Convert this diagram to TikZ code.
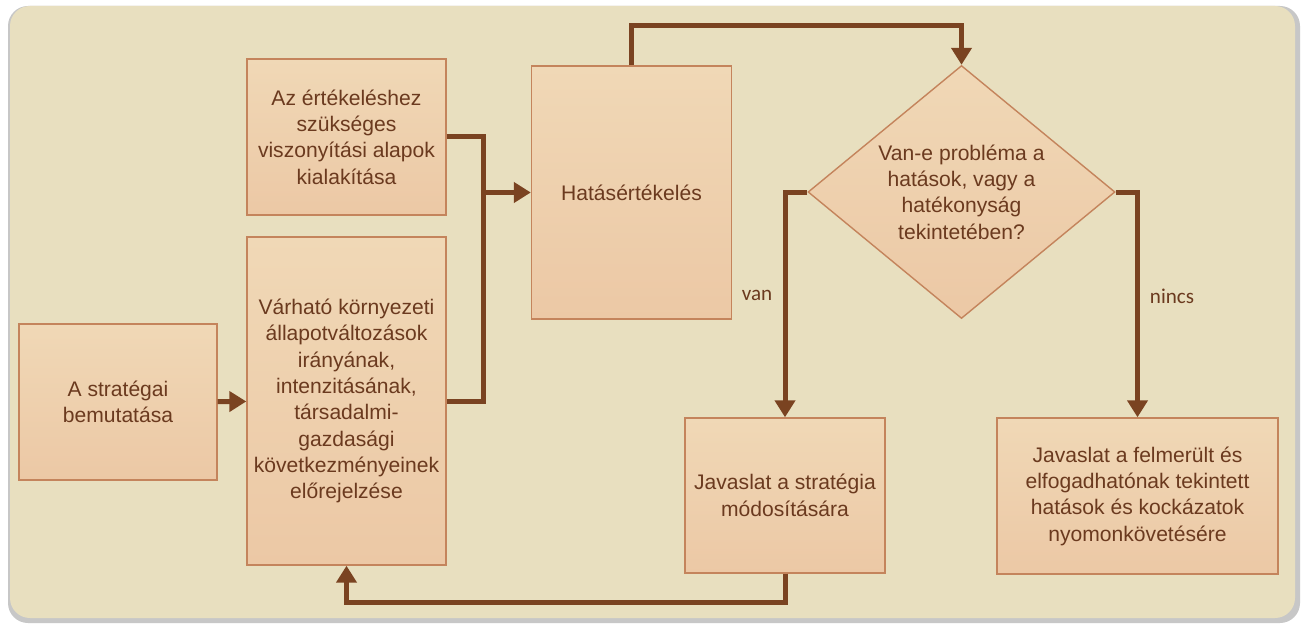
\documentclass[tikz,border=0pt]{standalone}
\usepackage{fontspec}
\setmainfont{Liberation Sans}
\newfontfamily\lblfont{Carlito}
\usetikzlibrary{shapes.geometric,arrows.meta}
\definecolor{bgc}{HTML}{E8DFBF}
\definecolor{boxtop}{HTML}{F0D8B6}
\definecolor{boxbot}{HTML}{ECC8A5}
\definecolor{boxline}{HTML}{C4845C}
\definecolor{arrowc}{HTML}{7A4321}
\definecolor{txtc}{HTML}{6B3A1F}
\begin{document}
\begin{tikzpicture}[line join=miter]
                \tikzstyle{box}=[rectangle,draw=boxline,line width=0.8pt,top color=boxtop,bottom color=boxbot,align=center,text=txtc,font=\fontsize{12}{15}\selectfont,inner sep=2pt]
                \tikzstyle{conn}=[draw=arrowc,line width=0.1cm,-{Triangle[length=0.34cm,width=0.4cm]}]
                \tikzstyle{plain}=[draw=arrowc,line width=0.1cm]
                \tikzstyle{lbl}=[text=txtc,font=\lblfont\fontsize{12}{14}\selectfont]
                \useasboundingbox (0,0) rectangle (26.02,12.52);
                \fill[white] (0,0) rectangle (26.02,12.52);
                \fill[black!22,rounded corners=0.4cm] (0.16,0.06) rectangle (26.0,12.4);
                \fill[bgc,rounded corners=0.4cm] (0.2,0.16) rectangle (25.9,12.4);

                \foreach \num/\x/\y/\w/\h/\txt in {strat/2.36/4.48/3.96/3.12/{A stratégai\\bemutatása},
                        alap/6.93/9.78/3.98/3.12/{Az értékeléshez\\szükséges\\viszonyítási alapok\\kialakítása},
                        varhato/6.93/4.50/3.98/6.56/{Várható környezeti\\állapotváltozások\\irányának,\\intenzitásának,\\társadalmi-\\gazdasági\\következményeinek\\előrejelzése},
                        hatas/12.63/8.67/4.0/5.06/{Hatásértékelés},
                        modosit/15.70/2.61/4.0/3.1/{Javaslat a stratégia\\módosítására},
                        kovet/22.75/2.60/5.62/3.12/{Javaslat a felmerült és\\elfogadhatónak tekintett\\hatások és kockázatok\\nyomonkövetésére}}
                        \node[box,minimum width=\w cm,minimum height=\h cm] (V-\num) at (\x,\y) {\txt};

                \node[box,diamond,aspect=1.21,inner sep=0pt,minimum width=6.14cm,minimum height=5.06cm] (V-dontes) at (19.23,8.68) {Van-e probléma a\\hatások, vagy a\\hatékonyság\\tekintetében?};

                \coordinate (J) at (9.66,8.67);
                \coordinate (T) at (16,12.0);
                \coordinate (B) at (11,0.48);

                \draw[conn] (V-strat) -- (V-varhato);
                \draw[plain] (V-alap.east) -| (V-varhato.east -| J) -- (V-varhato.east);
                \draw[conn] (J |- V-hatas.west) -- (V-hatas.west);
                \draw[conn] (V-hatas.north) |- (T) -| (V-dontes.north);
                \draw[conn] (V-dontes.west) -| (V-modosit.north);
                \draw[conn] (V-dontes.east) -| (V-kovet.north);
                \draw[conn] (V-modosit.south) |- (B) -| (V-varhato.south);

                \node[lbl] (L-van) at (15.14,6.62) {van};
                \node[lbl] (L-nincs) at (23.44,6.60) {nincs};
\end{tikzpicture}
\end{document}
